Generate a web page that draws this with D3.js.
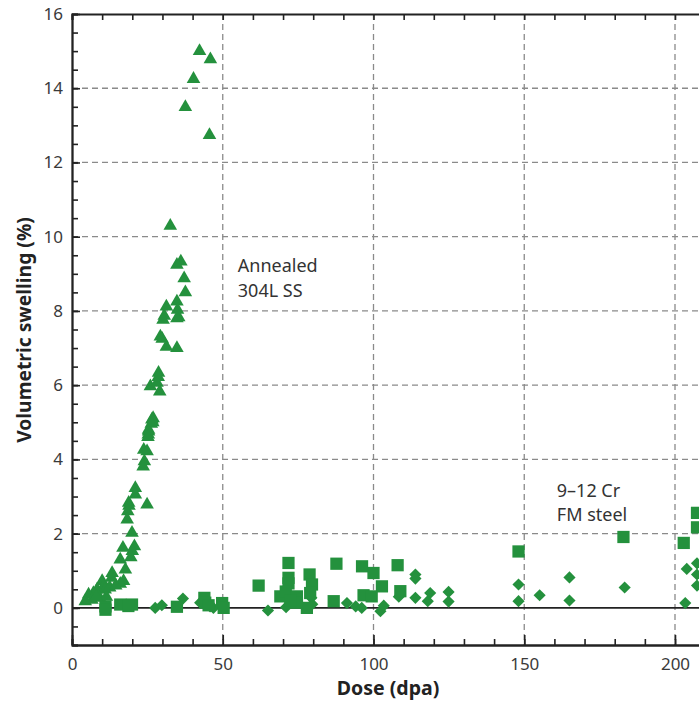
<!DOCTYPE html>
<html>
<head>
<meta charset="utf-8">
<script src="https://cdn.jsdelivr.net/npm/d3@7"></script>
<style>
  body { margin: 0; background: #fff; }
  svg text { font-family: "Noto Sans", "Open Sans", sans-serif; }
</style>
</head>
<body>
<svg id="chart" width="699" height="705"></svg>
<script>
// annealed 304L SS (triangles): [dose, swelling]
var steel304 = [
  [42.3, 15.0], [45.9, 14.78], [40.3, 14.25], [37.6, 13.49], [45.6, 12.74], [32.6, 10.29],
  [36.1, 9.33], [34.8, 9.24], [37.2, 8.88], [37.6, 8.5], [31.3, 8.12], [34.8, 8.25],
  [35.0, 8.03], [30.6, 7.87], [30.2, 7.76], [35.4, 7.83], [34.8, 7.8], [29.3, 7.31],
  [29.9, 7.25], [31.3, 7.03], [34.8, 7.0], [28.7, 6.33], [28.6, 6.22], [26.0, 5.97],
  [28.2, 6.06], [29.1, 5.83], [26.9, 5.11], [26.8, 5.0], [25.4, 4.8], [25.3, 4.67],
  [26.5, 5.07], [26.3, 4.96], [25.4, 4.75], [25.2, 4.6], [23.8, 4.26], [24.9, 4.22],
  [24.0, 3.95], [23.6, 3.81], [21.0, 3.23], [21.0, 3.05], [24.9, 2.78], [18.8, 2.83],
  [18.9, 2.75], [18.5, 2.6], [18.3, 2.38], [19.9, 2.02], [20.7, 1.66], [20.0, 1.53],
  [16.9, 1.62], [16.0, 1.3], [19.5, 1.36], [17.7, 1.03], [13.3, 0.94], [13.1, 0.81],
  [17.1, 0.72], [16.0, 0.65], [10.0, 0.72], [10.5, 0.58], [11.0, 0.49], [8.3, 0.49],
  [7.1, 0.4], [5.5, 0.36], [4.4, 0.18], [6.6, 0.22], [9.2, 0.27], [11.4, 0.3],
  [12.5, 0.55], [14.5, 0.6], [8.0, 0.3]
];

// 9-12 Cr FM steel, squares
var fmSquares = [
  [11.1, 0.04], [11.1, -0.05], [16.0, 0.09], [19.9, 0.09], [18.7, 0.05], [34.8, 0.03],
  [43.9, 0.27], [44.2, 0.14], [45.3, 0.07], [49.8, 0.13], [50.3, 0.0],
  [61.9, 0.6], [71.8, 1.21], [71.8, 0.81], [71.8, 0.66], [69.1, 0.31], [70.9, 0.44],
  [74.6, 0.31], [74.6, 0.14], [72.4, 0.2], [78.8, 0.9], [79.6, 0.63], [79.0, 0.4],
  [77.9, 0.0], [87.7, 1.19], [86.8, 0.18], [96.2, 1.12], [100.0, 0.94], [96.7, 0.34],
  [102.8, 0.58], [99.4, 0.31], [108.0, 1.15], [108.9, 0.45], [148.1, 1.52],
  [182.9, 1.91], [202.9, 1.75], [207.3, 2.56], [207.3, 2.17]
];

// 9-12 Cr FM steel, diamonds
var fmDiamonds = [
  [27.6, 0.0], [29.8, 0.07], [36.8, 0.25], [42.5, 0.14], [46.9, 0.0], [45.8, 0.04],
  [65.0, -0.07], [71.0, 0.02], [79.4, 0.27], [79.7, 0.1], [91.2, 0.13], [94.1, 0.04],
  [96.1, 0.0], [102.3, -0.09], [103.4, 0.06], [108.4, 0.3], [113.9, 0.9], [113.9, 0.79],
  [113.9, 0.27], [118.8, 0.4], [118.0, 0.18], [124.9, 0.43], [124.9, 0.17],
  [148.1, 0.63], [148.1, 0.18], [155.1, 0.34], [165.0, 0.82], [165.0, 0.2],
  [183.3, 0.55], [203.4, 0.13], [203.9, 1.05], [207.3, 0.6], [207.3, 1.2], [207.3, 0.9]
];

var xMajor = [0, 50, 100, 150, 200];
var yMajor = [0, 2, 4, 6, 8, 10, 12, 14, 16];
var yGrid = [2, 4, 6, 8, 10, 12, 14];
var xGrid = [50, 100, 150, 200];
var notes = [
  { x: 55, y: 9.04, lines: ["Annealed", "304L SS"] },
  { x: 160.8, y: 3.0, lines: ["9\u201312 Cr", "FM steel"] }
];

var green = "#24913d";
var svg = d3.select("#chart");

// plot box (the chart runs past the right edge of the window)
var boxLeft = 72, boxTop = 14, boxBottom = 645;
var x = d3.scaleLinear().domain([0, 210]).range([boxLeft, boxLeft + 210 * 3.015]);
var y = d3.scaleLinear().domain([-1, 16]).range([boxBottom, boxTop]);
var boxRight = x(210);

// dashed grid
svg.append("g").selectAll("line").data(yGrid).enter().append("line")
  .attr("x1", boxLeft).attr("x2", boxRight)
  .attr("y1", function(d){ return y(d); }).attr("y2", function(d){ return y(d); })
  .style("stroke", "#8a8a8a").style("stroke-width", 1.3).style("stroke-dasharray", "6,4");
svg.append("g").selectAll("line").data(xGrid).enter().append("line")
  .attr("x1", function(d){ return x(d); }).attr("x2", function(d){ return x(d); })
  .attr("y1", boxTop).attr("y2", boxBottom)
  .style("stroke", "#8a8a8a").style("stroke-width", 1.3).style("stroke-dasharray", "6,4");

// zero line
svg.append("line")
  .attr("x1", boxLeft).attr("x2", boxRight).attr("y1", y(0)).attr("y2", y(0))
  .style("stroke", "#222").style("stroke-width", 1.6);

// axes: minor ticks, then major ticks with labels
function styleAxis(g){
  g.select(".domain").style("stroke", "#222").style("stroke-width", 1.8);
  g.selectAll(".tick line").style("stroke", "#222").style("stroke-width", 1.6);
  g.selectAll(".tick text").style("font-size", "17px").style("fill", "#3a3a3a")
    .style("font-family", "'Noto Sans', sans-serif");
}

var xMinor = d3.range(0, 211, 10);
var yMinor = d3.range(-1, 16.01, 0.5);

svg.append("g").attr("transform", "translate(0," + boxBottom + ")")
  .call(d3.axisBottom(x).tickValues(xMinor).tickSize(-6).tickFormat(""))
  .call(styleAxis);
svg.append("g").attr("transform", "translate(0," + boxBottom + ")")
  .call(d3.axisBottom(x).tickValues(xMajor).tickSize(-10).tickPadding(13).tickSizeOuter(0))
  .call(styleAxis);
svg.append("g").attr("transform", "translate(0," + boxTop + ")")
  .call(d3.axisTop(x).tickValues(xMinor).tickSize(-6).tickFormat(""))
  .call(styleAxis);
svg.append("g").attr("transform", "translate(" + boxLeft + ",0)")
  .call(d3.axisLeft(y).tickValues(yMinor).tickSize(-6).tickFormat(""))
  .call(styleAxis);
svg.append("g").attr("transform", "translate(" + boxLeft + ",0)")
  .call(d3.axisLeft(y).tickValues(yMajor).tickSize(-8).tickPadding(9).tickSizeOuter(0))
  .call(styleAxis);

// markers
var tri = d3.symbol().type(d3.symbolTriangle).size(80);
var sq = d3.symbol().type(d3.symbolSquare).size(150);
var dia = d3.symbol().type(d3.symbolSquare).size(74);

function plotSeries(data, sym, rot){
  svg.append("g").selectAll("path").data(data).enter().append("path")
    .attr("d", sym)
    .attr("transform", function(d){
      return "translate(" + x(d[0]) + "," + y(d[1]) + ")" + (rot ? " rotate(" + rot + ")" : "");
    })
    .style("fill", green);
}
plotSeries(fmDiamonds, dia, 45);
plotSeries(fmSquares, sq, 0);
plotSeries(steel304, tri, 0);

// annotations
notes.forEach(function(n){
  var t = svg.append("text")
    .attr("x", x(n.x)).attr("y", y(n.y))
    .style("font-size", "18px").style("fill", "#333");
  n.lines.forEach(function(line, i){
    t.append("tspan").attr("x", x(n.x)).attr("dy", i === 0 ? 0 : 24.5).text(line);
  });
});

// axis titles
svg.append("text")
  .attr("x", 388).attr("y", 695)
  .attr("text-anchor", "middle")
  .style("font-size", "19.5px").style("font-weight", "bold").style("fill", "#222")
  .text("Dose (dpa)");
svg.append("text")
  .attr("transform", "translate(31,330) rotate(-90)")
  .attr("text-anchor", "middle")
  .style("font-size", "19.3px").style("font-weight", "bold").style("fill", "#222")
  .text("Volumetric swelling (%)");
</script>
</body>
</html>
